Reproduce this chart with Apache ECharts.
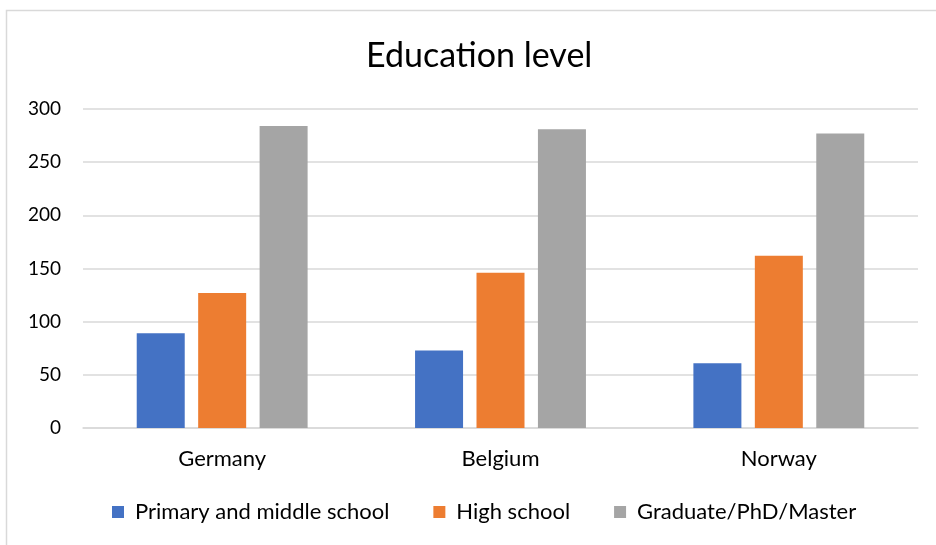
<!DOCTYPE html>
<html>
<head>
<meta charset="utf-8">
<script src="https://cdn.jsdelivr.net/npm/echarts@6/dist/echarts.min.js"></script>
<style>
  html, body { margin: 0; padding: 0; background: #fff; }
  #chart { width: 936px; height: 545px; }
</style>
</head>
<body>
<div id="chart"></div>
<script>
// Countries on the category axis
const countries = ['Germany', 'Belgium', 'Norway'];

// Number of people per education level
const primaryMiddle = [89, 73, 61];
const highSchool = [127, 146, 162];
const graduate = [284, 281, 277];

const seriesNames = ['Primary and middle school', 'High school', 'Graduate/PhD/Master'];
const seriesColors = ['#4472C4', '#ED7D31', '#A5A5A5'];

// Value axis ticks
const yMin = 0, yMax = 300, yStep = 50;

const FONT = 'Lato, "Open Sans", sans-serif';

const chart = echarts.init(document.getElementById('chart'));

const makeBar = (name, data, color) => ({
  name: name,
  type: 'bar',
  data: data,
  barWidth: 48,
  barGap: '28%',
  itemStyle: { color: color }
});

chart.setOption({
  animation: false,
  textStyle: { fontFamily: FONT },
  graphic: [{
    type: 'rect',
    shape: { x: 6.5, y: 10.5, width: 960, height: 560 },
    style: { fill: 'none', stroke: '#d9d9d9', lineWidth: 1.5 },
    silent: true
  }],
  title: {
    text: 'Education level',
    left: 361,
    top: 34,
    textStyle: { fontFamily: FONT, fontSize: 34, fontWeight: 'normal', color: '#000' }
  },
  legend: {
    data: seriesNames,
    top: 496,
    left: 107,
    icon: 'rect',
    itemWidth: 12,
    itemHeight: 12,
    itemGap: 44,
    textStyle: { fontFamily: FONT, fontSize: 22, color: '#000', padding: [0, 0, 0, 6] }
  },
  grid: { left: 83, right: 18, top: 109, bottom: 117, containLabel: false },
  xAxis: {
    type: 'category',
    data: countries,
    axisLine: { show: true, lineStyle: { color: '#d9d9d9', width: 1.5 } },
    axisTick: { show: false },
    axisLabel: { fontFamily: FONT, fontSize: 22, color: '#000', margin: 20 }
  },
  yAxis: {
    type: 'value',
    min: yMin,
    max: yMax,
    interval: yStep,
    axisLine: { show: false },
    axisTick: { show: false },
    axisLabel: { fontFamily: FONT, fontSize: 19, color: '#000', margin: 22 },
    splitLine: { lineStyle: { color: '#d9d9d9', width: 1.5 } }
  },
  series: [
    makeBar(seriesNames[0], primaryMiddle, seriesColors[0]),
    makeBar(seriesNames[1], highSchool, seriesColors[1]),
    makeBar(seriesNames[2], graduate, seriesColors[2])
  ]
});
</script>
</body>
</html>
